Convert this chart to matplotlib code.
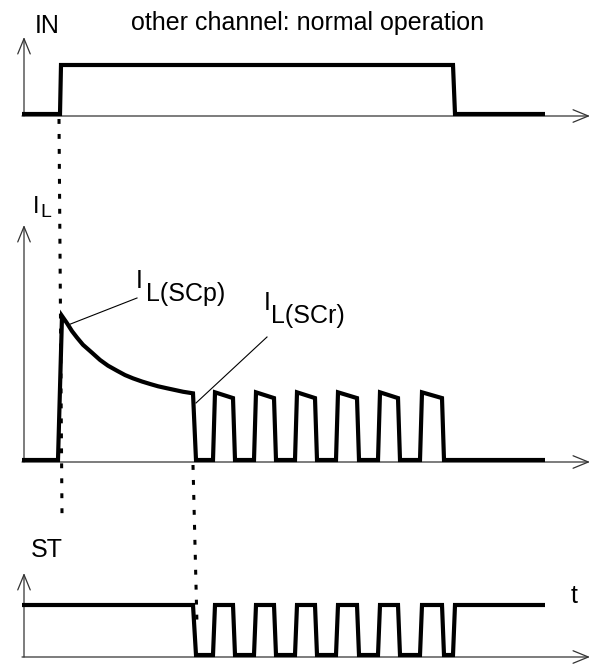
import matplotlib
matplotlib.use('Agg')
import matplotlib.pyplot as plt

plt.rcParams['font.family'] = ['Liberation Sans', 'DejaVu Sans']

W, H = 594, 664

# --- signal data (time in arbitrary units, levels normalised) ---
t_start, t_end = 22, 545
t_in_on, t_in_off = 60, 453
t_sc = 193          # short circuit detected -> switch off

in_t = [t_start, t_in_on, t_in_on + 1, t_in_off, t_in_off + 2, t_end]
in_level = [0, 0, 1, 1, 0, 0]

# load current: peak I_L(SCp) decaying towards I_L(SCr)
il_decay_t = [58, 62, 67, 72, 77, 83, 92, 100, 108, 117, 125, 133, 142,
              150, 158, 167, 175, 183, 193]
il_decay = [0, 1.0, 0.95, 0.895, 0.85, 0.80, 0.745, 0.695, 0.655, 0.62,
            0.59, 0.567, 0.545, 0.528, 0.512, 0.498, 0.486, 0.474, 0.463]

# restart pulses
retry_rise = [213, 254, 295, 336, 378, 420]
retry_fall = [233, 274, 315, 357, 398, 442]
retry_top = [0.47, 0.43]   # pulse top at start / end
edge = 2

# build IL waveform
il_t = [t_start] + il_decay_t + [t_sc + 3]
il_level = [0] + il_decay + [0]
for r, f in zip(retry_rise, retry_fall):
    il_t += [r, r + edge, f, f + edge]
    il_level += [0, retry_top[0], retry_top[1], 0]
il_t.append(t_end)
il_level.append(0)

# build ST waveform
st_t = [t_start, t_sc, t_sc + 3]
st_level = [1, 1, 0]
for r, f in zip(retry_rise, retry_fall):
    st_t += [r, r + edge, f, f + edge]
    st_level += [0, 1, 1, 0]
st_t += [t_in_off, t_in_off + edge, t_end]
st_level += [0, 1, 1]

fig = plt.figure(figsize=(W / 100, H / 100), dpi=100)

# overlay in pixel-like coordinates for axes arrows and labels
ax0 = fig.add_axes([0, 0, 1, 1])
ax0.set_xlim(0, W)
ax0.set_ylim(H, 0)
ax0.axis('off')


def panel(zero_px, one_px):
    # transparent full size axes, level 0 / 1 land on the given rows
    ax = fig.add_axes([0, 0, 1, 1])
    ax.patch.set_alpha(0)
    s = zero_px - one_px
    ax.set_xlim(0, W)
    ax.set_ylim((zero_px - H) / s, zero_px / s)
    ax.axis('off')
    return ax


ax_in = panel(114, 65)
ax_il = panel(460, 316)
ax_st = panel(655, 605)

sig = dict(color='black', lw=3, solid_joinstyle='miter', solid_capstyle='butt')
ax_in.plot(in_t, in_level, **sig)
ax_il.plot(il_t, il_level, **sig)
ax_st.plot(st_t, st_level, **sig)

# coordinate axes with open arrow heads
arr = dict(arrowstyle='->,head_length=1.1,head_width=0.45', lw=0.9,
           color='#333333', shrinkA=0, shrinkB=0, mutation_scale=10)
for y_axis, y_top in [(116, 37), (462, 225), (657, 573)]:
    ax0.annotate('', xy=(590, y_axis), xytext=(22, y_axis), arrowprops=arr)
    ax0.annotate('', xy=(24, y_top), xytext=(24, y_axis), arrowprops=arr)

# dotted event markers
dot = dict(color='black', lw=2.2, ls=(0, (1.6, 3.3)))
ax0.plot([t_in_on - 1, t_in_on + 2], [119, 515], **dot)
ax0.plot([t_sc, t_sc + 4], [465, 625], **dot)

# leader lines for the current annotations
ax0.plot([68, 137], [325, 298], color='black', lw=0.8)
ax0.plot([196, 267], [403, 337], color='black', lw=0.8)

fs = 18
ax0.text(131, 30, 'other channel: normal operation', fontsize=fs)
ax0.text(35, 33, 'IN', fontsize=fs)
ax0.text(33, 213, 'I', fontsize=17)
ax0.text(40, 217, 'L', fontsize=14)
ax0.text(136, 288, 'I', fontsize=fs)
ax0.text(146, 301, 'L(SCp)', fontsize=fs)
ax0.text(264, 310, 'I', fontsize=fs)
ax0.text(271, 323, 'L(SCr)', fontsize=fs)
ax0.text(31, 557, 'ST', fontsize=fs)
ax0.text(571, 603, 't', fontsize=fs)

fig.savefig('out.png', dpi=100)
